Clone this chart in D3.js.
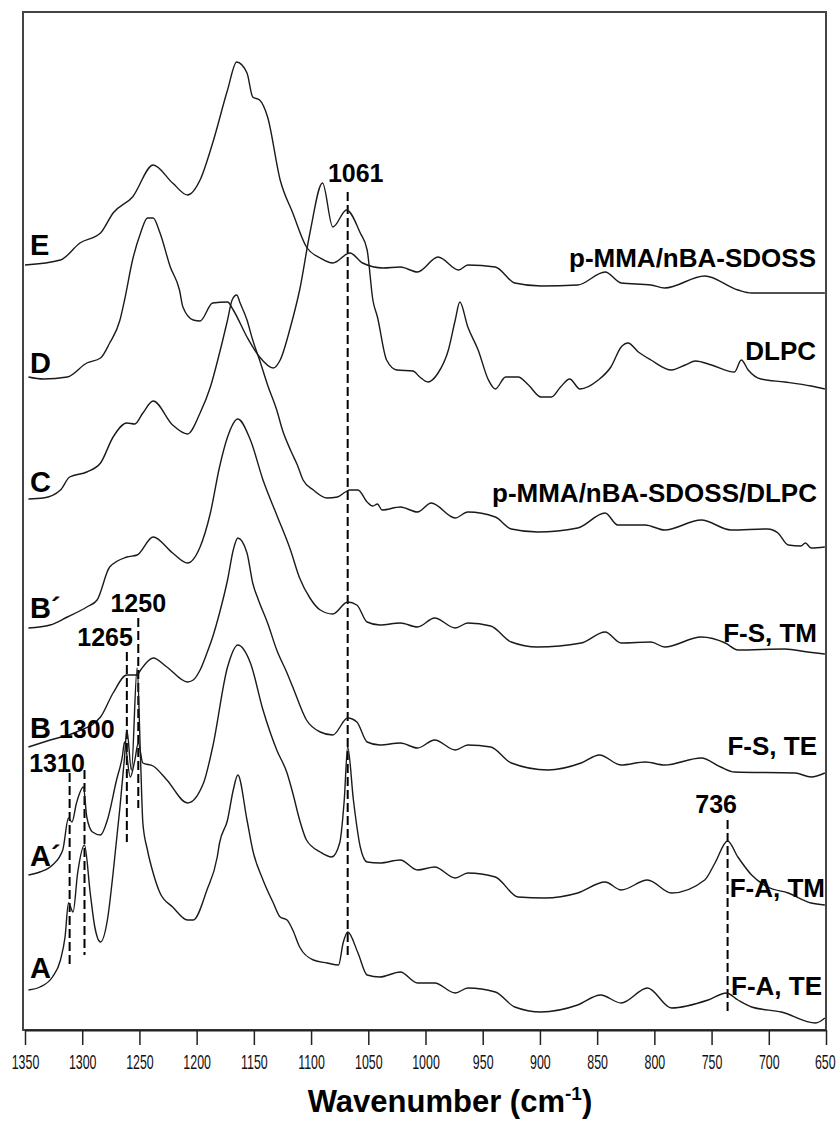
<!DOCTYPE html>
<html>
<head>
<meta charset="utf-8">
<script src="https://cdn.jsdelivr.net/npm/d3@7"></script>
<style>
  body { margin: 0; background: #fff; }
  svg { display: block; }
  text { font-family: "Liberation Sans", Arial, sans-serif; }
</style>
</head>
<body>
<div id="wrapper"></div>
<script>

// spectra: [wavenumber (cm-1), absorbance (a.u., stacked offset included)]
const spectrumE = [
  [1350,7.65],[1319,7.70],[1302,7.87],[1284,7.97],[1273,8.17],[1256,8.33],[1238,8.65],
  [1221,8.47],[1208,8.35],[1197,8.50],[1186,8.87],[1173,9.40],[1165,9.68],[1156,9.57],
  [1151,9.33],[1145,9.30],[1138,9.13],[1127,8.50],[1116,8.17],[1104,7.83],[1092,7.72],
  [1081,7.67],[1066,7.77],[1055,7.67],[1037,7.62],[1022,7.63],[1007,7.58],[989,7.73],
  [971,7.60],[963,7.65],[939,7.63],[922,7.47],[899,7.44],[867,7.45],[843,7.58],[829,7.47],
  [803,7.45],[791,7.42],[756,7.54],[727,7.40],[715,7.37],[651,7.37]
]

const spectrumD = [
  [1347,6.53],[1334,6.51],[1313,6.53],[1296,6.67],[1284,6.72],[1276,6.87],[1267,7.10],
  [1263,7.30],[1256,7.70],[1249,7.97],[1243,8.12],[1238,8.12],[1232,7.97],[1223,7.63],
  [1215,7.40],[1212,7.23],[1203,7.10],[1197,7.09],[1186,7.27],[1173,7.28],[1168,7.20],
  [1156,6.93],[1145,6.73],[1133,6.62],[1127,6.70],[1118,7.03],[1110,7.40],[1101,7.97],
  [1090,8.47],[1081,8.03],[1069,8.20],[1057,7.97],[1051,7.80],[1046,7.30],[1042,7.13],
  [1034,6.70],[1025,6.60],[1011,6.59],[1005,6.53],[998,6.48],[989,6.57],[980,6.80],
  [974,7.10],[970,7.28],[963,7.03],[954,6.80],[945,6.50],[939,6.41],[930,6.53],[919,6.53],
  [910,6.45],[899,6.33],[890,6.33],[882,6.43],[874,6.51],[865,6.41],[849,6.50],[838,6.63],
  [829,6.83],[823,6.87],[814,6.78],[803,6.70],[785,6.60],[773,6.65],[764,6.69],[750,6.65],
  [730,6.58],[724,6.70],[718,6.60],[707,6.51],[686,6.48],[663,6.44],[651,6.41]
]

const spectrumC = [
  [1347,5.31],[1334,5.32],[1319,5.40],[1311,5.53],[1296,5.58],[1284,5.67],[1273,5.93],
  [1261,6.07],[1254,6.06],[1247,6.17],[1238,6.29],[1221,6.05],[1208,5.96],[1197,6.17],
  [1188,6.43],[1180,6.77],[1173,7.10],[1169,7.30],[1165,7.35],[1162,7.27],[1156,7.10],
  [1151,6.90],[1145,6.70],[1138,6.45],[1130,6.20],[1125,6.00],[1118,5.80],[1112,5.65],
  [1107,5.50],[1098,5.40],[1086,5.32],[1077,5.33],[1070,5.38],[1066,5.40],[1059,5.40],
  [1051,5.28],[1046,5.24],[1042,5.26],[1038,5.20],[1022,5.23],[1007,5.18],[995,5.27],
  [974,5.12],[963,5.18],[939,5.13],[925,5.01],[902,4.98],[867,5.02],[843,5.17],[832,5.05],
  [808,5.05],[791,5.00],[759,5.10],[733,5.00],[701,5.01],[692,4.97],[683,4.85],[672,4.84],
  [668,4.87],[663,4.82],[651,4.83]
]

const spectrumBp = [
  [1347,4.02],[1328,4.05],[1313,4.13],[1296,4.23],[1287,4.30],[1276,4.63],[1261,4.73],
  [1252,4.75],[1238,4.93],[1221,4.77],[1208,4.67],[1197,4.83],[1188,5.17],[1180,5.63],
  [1173,5.93],[1164,6.11],[1153,5.90],[1142,5.50],[1130,5.15],[1118,4.80],[1110,4.52],
  [1101,4.32],[1092,4.20],[1081,4.16],[1068,4.28],[1060,4.25],[1051,4.08],[1040,4.05],
  [1022,4.07],[1007,4.03],[992,4.12],[974,4.02],[963,4.07],[943,4.04],[925,3.88],[902,3.83],
  [864,3.87],[843,3.98],[829,3.87],[803,3.88],[791,3.83],[759,3.93],[738,3.87],[727,3.80],
  [686,3.81],[666,3.78],[651,3.76]
]

const spectrumB = [
  [1347,2.83],[1328,2.90],[1305,2.98],[1284,3.13],[1273,3.37],[1261,3.55],[1252,3.55],
  [1249,3.60],[1238,3.72],[1226,3.63],[1208,3.48],[1203,3.50],[1197,3.60],[1191,3.77],
  [1186,3.93],[1180,4.17],[1173,4.50],[1168,4.80],[1164,4.92],[1156,4.77],[1151,4.47],
  [1146,4.30],[1138,4.07],[1130,3.80],[1121,3.57],[1116,3.43],[1104,3.10],[1092,2.98],
  [1081,2.95],[1068,3.12],[1060,3.08],[1051,2.88],[1040,2.85],[1022,2.87],[1007,2.82],
  [992,2.90],[974,2.80],[963,2.85],[943,2.83],[925,2.67],[893,2.60],[864,2.67],[848,2.75],
  [829,2.65],[808,2.68],[791,2.65],[759,2.72],[742,2.63],[730,2.58],[677,2.57],[663,2.53],
  [651,2.57]
]

const spectrumAp = [
  [1347,1.55],[1337,1.58],[1326,1.65],[1317,1.80],[1312,2.12],[1309,2.08],[1305,2.27],
  [1299,2.43],[1296,2.13],[1291,1.98],[1284,1.95],[1278,2.10],[1270,2.50],[1265,2.73],
  [1263,2.88],[1258,2.53],[1254,2.70],[1251,2.87],[1247,2.67],[1238,2.64],[1226,2.50],
  [1208,2.27],[1194,2.47],[1186,2.83],[1173,3.63],[1164,3.85],[1153,3.67],[1142,3.20],
  [1130,2.80],[1121,2.57],[1116,2.37],[1110,2.10],[1104,1.90],[1092,1.78],[1082,1.73],
  [1075,1.87],[1071,2.30],[1068,2.83],[1063,2.30],[1057,1.83],[1051,1.68],[1040,1.67],
  [1022,1.70],[1007,1.60],[992,1.63],[974,1.52],[963,1.57],[939,1.53],[919,1.33],[896,1.32],
  [867,1.37],[843,1.48],[829,1.40],[806,1.50],[785,1.37],[756,1.50],[747,1.67],[736,1.89],
  [727,1.73],[715,1.55],[701,1.43],[683,1.37],[663,1.27],[651,1.25]
]

const spectrumA = [
  [1347,0.40],[1337,0.43],[1326,0.53],[1319,0.70],[1315,0.93],[1312,1.27],[1308,1.18],
  [1304,1.57],[1298,1.85],[1293,1.37],[1289,1.03],[1284,0.88],[1278,1.10],[1273,1.57],
  [1267,2.23],[1263,2.73],[1261,3.00],[1257,2.60],[1252,3.62],[1249,2.70],[1247,2.07],
  [1243,1.80],[1238,1.57],[1232,1.37],[1221,1.23],[1208,1.10],[1203,1.10],[1191,1.40],
  [1182,1.73],[1180,1.87],[1173,2.10],[1168,2.40],[1164,2.55],[1156,2.10],[1151,1.80],
  [1142,1.50],[1133,1.27],[1127,1.13],[1121,1.10],[1116,1.00],[1110,0.83],[1098,0.70],
  [1086,0.67],[1076,0.65],[1072,0.87],[1068,0.98],[1059,0.77],[1051,0.55],[1040,0.53],
  [1022,0.58],[1007,0.47],[992,0.47],[974,0.37],[963,0.42],[939,0.38],[922,0.23],[899,0.18],
  [867,0.25],[847,0.35],[829,0.27],[806,0.42],[785,0.22],[753,0.30],[737,0.37],[727,0.30],
  [715,0.23],[689,0.18],[659,0.07],[651,0.12]
]

const traceLetters = ["E", "D", "C", "B\u00b4", "B", "A\u00b4", "A"]
const traceNames = ["p-MMA/nBA-SDOSS", "DLPC", "p-MMA/nBA-SDOSS/DLPC", "F-S, TM", "F-S, TE", "F-A, TM", "F-A, TE"]
const xTicks = [1350, 1300, 1250, 1200, 1150, 1100, 1050, 1000, 950, 900, 850, 800, 750, 700, 650]

// dashed peak markers: wavenumber, top and bottom (a.u.)
const markerWavenumbers = [1068, 1311, 1298, 1261, 1251, 736]
const markerTops = [8.38, 2.57, 2.60, 3.78, 4.12, 2.10]
const markerBottoms = [0.75, 0.65, 0.75, 1.88, 2.22, 0.17]
const markerTexts = ["1061", "1310", "1300", "1265", "1250", "736"]

function drawChart() {

    const spectra = [spectrumE, spectrumD, spectrumC, spectrumBp, spectrumB, spectrumAp, spectrumA]
    const wn = d => d[0]
    const abs = d => d[1]

    let dimensions = {
        width: 838,
        height: 1122,
        margin: { top: 12, right: 12, bottom: 92, left: 25 },
    }
    dimensions.boundedWidth = dimensions.width - dimensions.margin.left - dimensions.margin.right
    dimensions.boundedHeight = dimensions.height - dimensions.margin.top - dimensions.margin.bottom

    const wrapper = d3.select("#wrapper")
        .append("svg")
        .attr("width", dimensions.width)
        .attr("height", dimensions.height)

    const bounds = wrapper.append("g")
        .attr("transform", `translate(${dimensions.margin.left},${dimensions.margin.top})`)

    const xScale = d3.scaleLinear()
        .domain([1350, 650])
        .range([0, dimensions.boundedWidth])

    const yScale = d3.scaleLinear()
        .domain([0, 10.18])
        .range([dimensions.boundedHeight, 0])

    // frame
    bounds.append("rect")
        .attr("x", -2)
        .attr("y", 0)
        .attr("width", dimensions.boundedWidth + 2)
        .attr("height", dimensions.boundedHeight)
        .attr("fill", "none")
        .attr("stroke", "#444")
        .attr("stroke-width", 2)

    // dashed markers
    bounds.selectAll(".marker")
        .data(markerWavenumbers)
        .enter().append("line")
        .attr("class", "marker")
        .attr("x1", d => xScale(d))
        .attr("x2", d => xScale(d))
        .attr("y1", (d, i) => yScale(markerTops[i]))
        .attr("y2", (d, i) => yScale(markerBottoms[i]))
        .attr("stroke", "#000")
        .attr("stroke-width", 2)
        .attr("stroke-dasharray", "9,4")

    // spectra
    const lineGenerator = d3.line()
        .x(d => xScale(wn(d)))
        .y(d => yScale(abs(d)))
        .curve(d3.curveMonotoneX)

    bounds.selectAll(".spectrum")
        .data(spectra)
        .enter().append("path")
        .attr("class", "spectrum")
        .attr("d", lineGenerator)
        .attr("fill", "none")
        .attr("stroke", "#1a1a1a")
        .attr("stroke-width", 1.4)

    // letter labels on the left, sample names on the right
    const letterY = [7.75, 6.57, 5.38, 4.12, 2.92, 1.64, 0.52]
    bounds.selectAll(".letter")
        .data(traceLetters)
        .enter().append("text")
        .attr("class", "letter")
        .attr("x", 5)
        .attr("y", (d, i) => yScale(letterY[i]))
        .attr("font-size", 29)
        .attr("font-weight", "bold")
        .text(d => d)

    const nameY = [7.63, 6.70, 5.28, 3.88, 2.75, 1.33, 0.35]
    const nameRight = [791, 791, 792, 792, 792, 800, 797]
    bounds.selectAll(".name")
        .data(traceNames)
        .enter().append("text")
        .attr("class", "name")
        .attr("x", (d, i) => nameRight[i])
        .attr("y", (d, i) => yScale(nameY[i]))
        .attr("text-anchor", "end")
        .attr("font-size", 26)
        .attr("font-weight", "bold")
        .text(d => d)

    // peak labels
    const peakLabelWn = [1061, 1322, 1296, 1280, 1251, 746]
    const peakLabelY = [8.48, 2.58, 2.92, 3.84, 4.18, 2.17]
    bounds.selectAll(".peak")
        .data(markerTexts)
        .enter().append("text")
        .attr("class", "peak")
        .attr("x", (d, i) => xScale(peakLabelWn[i]))
        .attr("y", (d, i) => yScale(peakLabelY[i]))
        .attr("text-anchor", "middle")
        .attr("font-size", 25)
        .attr("font-weight", "bold")
        .text(d => d)

    // x axis
    const xAxis = d3.axisBottom(xScale)
        .tickValues(xTicks)
        .tickFormat(d3.format("d"))
        .tickSize(15)
        .tickSizeOuter(0)
        .tickPadding(10)

    const xAxisGroup = bounds.append("g")
        .attr("transform", `translate(0,${dimensions.boundedHeight})`)
        .call(xAxis)

    xAxisGroup.select(".domain").attr("stroke", "#222").attr("stroke-width", 2)
    xAxisGroup.selectAll(".tick line").attr("stroke", "#222").attr("stroke-width", 1.5)

    // condensed tick numbers, as in the original
    xAxisGroup.selectAll(".tick text")
        .attr("fill", "#111")
        .attr("font-size", 20)
        .attr("font-family", "'Liberation Sans', Arial, sans-serif")
        .attr("x", d => d === 650 ? -2 : 0)
        .attr("transform", "scale(0.62,1)")

    const title = wrapper.append("text")
        .attr("x", 450)
        .attr("y", 1112)
        .attr("text-anchor", "middle")
        .attr("font-size", 31)
        .attr("font-weight", "bold")
    title.append("tspan").text("Wavenumber (cm")
    title.append("tspan").attr("font-size", 19).attr("dy", -12).text("-1")
    title.append("tspan").attr("dy", 12).text(")")
}

drawChart()
</script>
</body>
</html>
